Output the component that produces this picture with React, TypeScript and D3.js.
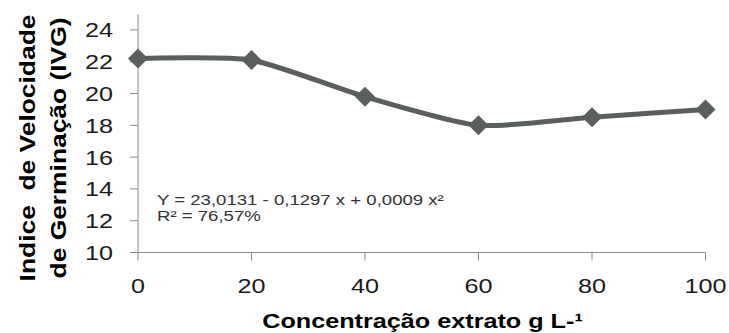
import * as d3 from 'd3'

const concentrations = [0, 20, 40, 60, 80, 100]
const ivgValues = [22.2, 22.1, 19.8, 18.0, 18.5, 19.0]
const yTicks = [10, 12, 14, 16, 18, 20, 22, 24]
const xTicks = [0, 20, 40, 60, 80, 100]
const equationLines = ['Y = 23,0131 - 0,1297 x + 0,0009 x²', 'R² = 76,57%']
const yTitleLines = ['Indice  de Velocidade', 'de Germinação (IVG)']
const xTitle = 'Concentração extrato g L-¹'

const width = 729
const height = 333
const left = 138
const right = 705.5
const top = 14
const bottom = 252.5
const stretch = 1.2
const font = '"Liberation Sans", Arial, sans-serif'
const axisColor = '#8a8a8a'
const lineColor = '#5a5e5e'

export default function App() {
  const x = d3.scaleLinear().domain([0, 100]).range([left, right])
  const y = d3.scaleLinear().domain([10, 25]).range([bottom, top])

  const points = concentrations.map((c, i) => ({ c, v: ivgValues[i] }))

  const line = d3
    .line<{ c: number; v: number }>()
    .x((d) => x(d.c))
    .y((d) => y(d.v))
    .curve(d3.curveCardinal.tension(0.35))

  const r = 10
  const diamond = `M0,${-r}L${r},0L0,${r}L${-r},0Z`

  return (
    <svg
      width={width}
      height={height}
      style={{ position: 'absolute', left: 0, top: 0, background: '#fff' }}
      fontFamily={font}
    >
      {/* y axis */}
      <line x1={left} x2={left} y1={top} y2={bottom} stroke={axisColor} />
      {yTicks.map((t) => (
        <g key={'y' + t}>
          <line x1={left - 8} x2={left} y1={y(t)} y2={y(t)} stroke={axisColor} />
          <text
            transform={`translate(113,${y(t) + 7.5}) scale(${stretch},1)`}
            textAnchor="end"
            fontSize={21}
            fill="#1a1a1a"
          >
            {t}
          </text>
        </g>
      ))}

      {/* x axis */}
      <line x1={left} x2={right} y1={bottom} y2={bottom} stroke={axisColor} />
      {xTicks.map((t) => (
        <g key={'x' + t}>
          <line x1={x(t)} x2={x(t)} y1={bottom} y2={bottom + 8} stroke={axisColor} />
          <text
            transform={`translate(${x(t)},293) scale(${stretch},1)`}
            textAnchor="middle"
            fontSize={21}
            fill="#1a1a1a"
          >
            {t}
          </text>
        </g>
      ))}

      {/* series */}
      <path d={line(points) ?? ''} fill="none" stroke={lineColor} strokeWidth={5} />
      {points.map((d) => (
        <path key={d.c} d={diamond} transform={`translate(${x(d.c)},${y(d.v)})`} fill={lineColor} />
      ))}

      {/* regression text */}
      {equationLines.map((s, i) => (
        <text
          key={s}
          transform={`translate(157,${205 + i * 16}) scale(1.24,1)`}
          fontSize={15}
          fill="#333"
        >
          {s}
        </text>
      ))}

      {/* titles */}
      {yTitleLines.map((s, i) => (
        <text
          key={s}
          transform={`translate(${35 + i * 31},148) rotate(-90) scale(${stretch},1)`}
          textAnchor="middle"
          fontSize={22}
          fontWeight="bold"
          fill="#000"
          style={{ whiteSpace: 'pre' }}
        >
          {s}
        </text>
      ))}
      <text
        transform={`translate(422.5,328) scale(${stretch},1)`}
        textAnchor="middle"
        fontSize={21}
        fontWeight="bold"
        fill="#000"
      >
        {xTitle}
      </text>
    </svg>
  )
}
